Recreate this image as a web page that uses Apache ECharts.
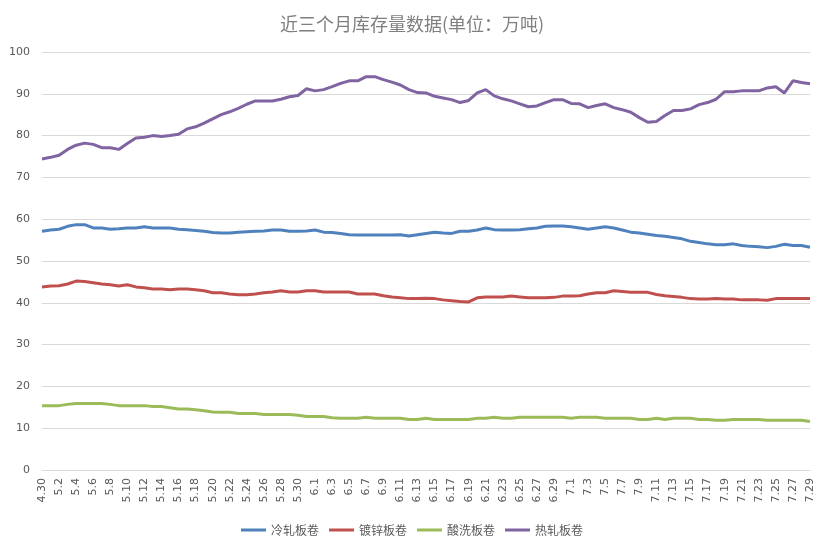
<!DOCTYPE html>
<html>
<head>
<meta charset="utf-8">
<title>库存量</title>
<script src="https://cdn.jsdelivr.net/npm/echarts@6/dist/echarts.min.js"></script>
<style>
    html, body { margin: 0; padding: 0; background: #fff; }
    #main { width: 824px; height: 551px; }
</style>
</head>
<body>
<div id="main"></div>
<script>
// 日期 4.30 - 7.29
var dates = [
    '4.30', '5.1', '5.2', '5.3', '5.4', '5.5', '5.6', '5.7', '5.8', '5.9', '5.10',
    '5.11', '5.12', '5.13', '5.14', '5.15', '5.16', '5.17', '5.18', '5.19', '5.20',
    '5.21', '5.22', '5.23', '5.24', '5.25', '5.26', '5.27', '5.28', '5.29', '5.30', '5.31',
    '6.1', '6.2', '6.3', '6.4', '6.5', '6.6', '6.7', '6.8', '6.9', '6.10',
    '6.11', '6.12', '6.13', '6.14', '6.15', '6.16', '6.17', '6.18', '6.19', '6.20',
    '6.21', '6.22', '6.23', '6.24', '6.25', '6.26', '6.27', '6.28', '6.29', '6.30',
    '7.1', '7.2', '7.3', '7.4', '7.5', '7.6', '7.7', '7.8', '7.9', '7.10',
    '7.11', '7.12', '7.13', '7.14', '7.15', '7.16', '7.17', '7.18', '7.19', '7.20',
    '7.21', '7.22', '7.23', '7.24', '7.25', '7.26', '7.27', '7.28', '7.29'
];

// 冷轧板卷
var coldRolled = [
    57.1, 57.4, 57.6, 58.3, 58.7, 58.7, 57.9, 57.9, 57.6, 57.7, 57.9,
    57.9, 58.2, 57.9, 57.9, 57.9, 57.6, 57.5, 57.3, 57.1, 56.8,
    56.7, 56.7, 56.9, 57.0, 57.1, 57.2, 57.4, 57.4, 57.1, 57.1, 57.2,
    57.4, 56.9, 56.8, 56.6, 56.3, 56.2, 56.2, 56.2, 56.2, 56.2,
    56.3, 56.0, 56.3, 56.6, 56.9, 56.7, 56.6, 57.1, 57.1, 57.4,
    57.9, 57.5, 57.4, 57.4, 57.5, 57.7, 57.9, 58.3, 58.4, 58.4,
    58.2, 57.9, 57.6, 57.9, 58.2, 57.9, 57.4, 56.9, 56.7, 56.4,
    56.1, 55.9, 55.6, 55.3, 54.7, 54.4, 54.1, 53.9, 53.9, 54.1,
    53.7, 53.5, 53.4, 53.2, 53.5, 54.0, 53.7, 53.7, 53.3
];

// 镀锌板卷
var galvanized = [
    43.8, 44.0, 44.1, 44.5, 45.2, 45.1, 44.8, 44.5, 44.3, 44.0, 44.3,
    43.8, 43.6, 43.3, 43.3, 43.1, 43.3, 43.3, 43.1, 42.9, 42.4,
    42.4, 42.1, 41.9, 41.9, 42.1, 42.4, 42.6, 42.9, 42.6, 42.6, 42.9,
    42.9, 42.6, 42.6, 42.6, 42.6, 42.1, 42.1, 42.1, 41.7, 41.4,
    41.2, 41.0, 41.0, 41.1, 41.0, 40.7, 40.5, 40.3, 40.2, 41.2,
    41.4, 41.4, 41.4, 41.6, 41.4, 41.2, 41.2, 41.2, 41.3, 41.6,
    41.6, 41.7, 42.1, 42.4, 42.4, 42.9, 42.7, 42.5, 42.5, 42.5,
    42.0, 41.7, 41.5, 41.3, 41.0, 40.9, 40.9, 41.0, 40.9, 40.9,
    40.7, 40.7, 40.7, 40.6, 41.0, 41.0, 41.0, 41.0, 41.0
];

// 酸洗板卷
var pickled = [
    15.4, 15.4, 15.4, 15.7, 15.9, 15.9, 15.9, 15.9, 15.7, 15.4, 15.4,
    15.4, 15.4, 15.2, 15.2, 14.9, 14.6, 14.6, 14.4, 14.2, 13.9,
    13.8, 13.8, 13.5, 13.5, 13.5, 13.3, 13.3, 13.3, 13.3, 13.1, 12.8,
    12.8, 12.8, 12.5, 12.4, 12.4, 12.4, 12.6, 12.4, 12.4, 12.4,
    12.4, 12.1, 12.1, 12.4, 12.1, 12.1, 12.1, 12.1, 12.1, 12.4,
    12.4, 12.6, 12.4, 12.4, 12.6, 12.6, 12.6, 12.6, 12.6, 12.6,
    12.4, 12.6, 12.6, 12.6, 12.4, 12.4, 12.4, 12.4, 12.1, 12.1,
    12.4, 12.1, 12.4, 12.4, 12.4, 12.1, 12.1, 11.9, 11.9, 12.1,
    12.1, 12.1, 12.1, 11.9, 11.9, 11.9, 11.9, 11.9, 11.6
];

// 热轧板卷
var hotRolled = [
    74.4, 74.8, 75.3, 76.7, 77.7, 78.2, 77.9, 77.1, 77.1, 76.7, 78.1,
    79.4, 79.6, 80.0, 79.8, 80.0, 80.3, 81.6, 82.1, 83.0, 84.0,
    85.0, 85.7, 86.5, 87.5, 88.3, 88.3, 88.3, 88.7, 89.3, 89.6, 91.2,
    90.7, 91.0, 91.7, 92.5, 93.1, 93.1, 94.1, 94.1, 93.4, 92.8,
    92.1, 91.0, 90.3, 90.2, 89.4, 89.0, 88.6, 87.9, 88.4, 90.2,
    91.0, 89.5, 88.8, 88.3, 87.6, 86.9, 87.1, 87.9, 88.6, 88.6,
    87.7, 87.6, 86.7, 87.2, 87.6, 86.7, 86.2, 85.6, 84.3, 83.2,
    83.4, 84.8, 86.0, 86.0, 86.4, 87.4, 87.9, 88.7, 90.5, 90.5,
    90.7, 90.7, 90.7, 91.4, 91.7, 90.2, 93.1, 92.7, 92.4
];

var seriesNames = ['冷轧板卷', '镀锌板卷', '酸洗板卷', '热轧板卷'];
var colorBox = ['#4F81BD', '#C0504D', '#9BBB59', '#8064A2'];

drawMain();

function drawMain() {
    var myChart = echarts.init(document.getElementById('main'));
    var allData = [coldRolled, galvanized, pickled, hotRolled];

    var series = [];
    for (var i = 0; i < seriesNames.length; i++) {
        series.push({
            name: seriesNames[i],
            type: 'line',
            symbol: 'none',
            smooth: false,
            lineStyle: { width: 3, color: colorBox[i] },
            itemStyle: { color: colorBox[i] },
            data: allData[i]
        });
    }

    var option = {
        backgroundColor: '#fff',
        animation: false,
        title: {
            text: '近三个月库存量数据(单位：万吨)',
            left: 'center',
            top: 10,
            textStyle: {
                fontFamily: 'Noto Sans CJK SC',
                fontSize: 18,
                fontWeight: 'normal',
                color: '#7f7f7f'
            }
        },
        legend: {
            bottom: 10,
            left: 'center',
            icon: 'rect',
            itemWidth: 25,
            itemHeight: 3,
            itemGap: 10,
            textStyle: {
                fontFamily: 'Noto Sans CJK SC',
                fontSize: 12,
                color: '#595959'
            },
            data: seriesNames
        },
        grid: {
            left: 42,
            right: 14,
            top: 52,
            bottom: 81,
            containLabel: false
        },
        xAxis: {
            type: 'category',
            boundaryGap: false,
            data: dates,
            axisLine: { show: true, lineStyle: { color: '#d9d9d9' } },
            axisTick: { show: false },
            axisLabel: {
                interval: 1,
                rotate: 90,
                margin: 8,
                fontFamily: 'DejaVu Sans',
                fontSize: 11,
                color: '#595959'
            },
            splitLine: { show: false }
        },
        yAxis: {
            type: 'value',
            min: 0,
            max: 100,
            interval: 10,
            axisLine: { show: false },
            axisTick: { show: false },
            axisLabel: {
                margin: 12,
                fontFamily: 'DejaVu Sans',
                fontSize: 11,
                color: '#595959'
            },
            splitLine: { lineStyle: { color: '#d9d9d9', width: 1 } }
        },
        series: series
    };

    myChart.setOption(option);
}
</script>
</body>
</html>
